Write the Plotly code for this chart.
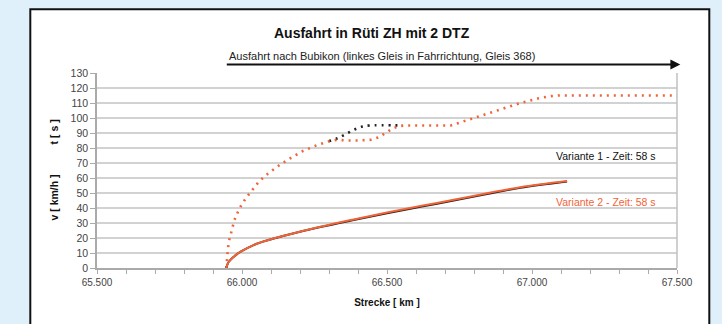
import plotly.graph_objects as go

# ---- data ----
# Variante 2 speed (dotted orange), km / km/h
v2_km = [65.946, 65.948, 65.951, 65.955, 65.960, 65.966, 65.974, 65.985, 65.998, 66.015,
         66.035, 66.060, 66.090, 66.125, 66.165, 66.210, 66.260, 66.300, 66.330, 66.360,
         66.400, 66.445, 66.470, 66.495, 66.520, 66.540, 66.560, 66.720, 66.760, 66.800,
         66.880, 66.960, 67.020, 67.060, 67.090, 67.500]
v2_speed = [0, 6, 12, 18, 22, 27, 32, 37, 42, 47,
            52, 58, 63, 68, 73, 78, 82, 84.5, 85.5, 85,
            85, 85.5, 87, 90, 93, 94.5, 95, 95, 97.5, 100,
            105, 110, 113, 114.5, 115, 115]
# Variante 1 speed, where it differs from Variante 2
v1_km = [66.300, 66.330, 66.360, 66.390, 66.415, 66.440, 66.555]
v1_speed = [84.5, 86.5, 89.5, 92.5, 94.3, 95, 95]
# running time (solid), km / s
t_km = [65.946, 65.950, 65.956, 65.964, 65.975, 65.994, 66.040, 66.098, 66.155, 66.270,
        66.385, 66.500, 66.615, 66.730, 66.845, 66.960, 67.121]
t2_s = [0, 2.5, 4.5, 6.2, 8.0, 10.7, 15.3, 19.0, 22.0, 27.5,
        32.4, 37.0, 41.3, 45.5, 49.8, 53.9, 58.0]
t1_s = [0, 2.5, 4.5, 6.2, 8.0, 10.7, 15.3, 19.0, 22.0, 27.3,
        32.0, 36.5, 40.8, 45.0, 49.3, 53.5, 57.7]

x_ticks = [round(65.5 + 0.1 * i, 1) for i in range(21)]
x_ticktext = ["65.500", "", "", "", "", "66.000", "", "", "", "", "66.500",
              "", "", "", "", "67.000", "", "", "", "", "67.500"]
y_ticks = list(range(0, 131, 10))

title = "Ausfahrt in Rüti ZH mit 2 DTZ"
subtitle = "Ausfahrt nach Bubikon (linkes Gleis in Fahrrichtung, Gleis 368)"
label1 = "Variante 1 - Zeit: 58 s"
label2 = "Variante 2 - Zeit: 58 s"

ORANGE = "#f0643a"
FONT = "Arial, Liberation Sans, sans-serif"
DOTS = "2px,5px"

fig = go.Figure()
fig.add_trace(go.Scatter(x=v1_km, y=v1_speed, mode="lines", line_shape="spline",
                         line=dict(color="#222222", width=2.6, dash=DOTS), showlegend=False))
fig.add_trace(go.Scatter(x=v2_km, y=v2_speed, mode="lines",
                         line=dict(color=ORANGE, width=2.6, dash=DOTS), showlegend=False))
fig.add_trace(go.Scatter(x=t_km, y=t1_s, mode="lines", line_shape="spline",
                         line=dict(color="#2a1a14", width=2.0), showlegend=False))
fig.add_trace(go.Scatter(x=t_km, y=t2_s, mode="lines", line_shape="spline",
                         line=dict(color=ORANGE, width=2.0), showlegend=False))

L, R, T, B = 96.7, 676.7, 73.0, 267.7
W, H = 722, 324
pw, ph = R - L, B - T

def px(xp):
    return (xp - L) / pw

def py(yp):
    return (B - yp) / ph

shapes = [
    # white panel with black border
    dict(type="rect", xref="paper", yref="paper", x0=px(30), x1=px(709), y0=py(340), y1=py(9.3),
         fillcolor="white", line=dict(color="#111111", width=2), layer="below"),
    # white boxes behind the labels
    dict(type="rect", xref="paper", yref="paper", x0=px(538), x1=px(674.5), y0=py(170), y1=py(141),
         fillcolor="white", line=dict(width=0), layer="between"),
    dict(type="rect", xref="paper", yref="paper", x0=px(538), x1=px(674.5), y0=py(215), y1=py(186),
         fillcolor="white", line=dict(width=0), layer="between"),
    # right border of plot area
    dict(type="line", xref="paper", yref="paper", x0=1, x1=1, y0=0, y1=1,
         line=dict(color="#c0c0c0", width=1.5), layer="above"),
]

def txt(text, x, y, size, color="#111111", angle=0):
    return dict(text=text, xref="paper", yref="paper", x=px(x), y=py(y),
                xanchor="center", yanchor="middle", showarrow=False, textangle=angle,
                font=dict(family=FONT, size=size, color=color))

annotations = [
    txt("<b>" + title + "</b>", 372, 33, 14),
    txt(subtitle, 382, 56, 11, "#222222"),
    dict(text="", xref="paper", yref="paper", x=px(680), y=py(64.5), axref="pixel", ayref="pixel",
         ax=-(680 - 225), ay=0, showarrow=True, arrowhead=2, arrowsize=1.1, arrowwidth=1.8,
         arrowcolor="#111111"),
    txt("<b>t [ s ]</b>", 54, 132, 10.5, angle=-90),
    txt("<b>v [ km/h ]</b>", 54, 197, 10.5, angle=-90),
    txt(label1, 606, 155.5, 10.5),
    txt(label2, 606, 202, 10.5, ORANGE),
]

fig.update_layout(
    width=W, height=H,
    margin=dict(l=L, r=W - R, t=T, b=H - B, pad=0),
    paper_bgcolor="#dff0fa",
    plot_bgcolor="rgba(0,0,0,0)",
    shapes=shapes,
    annotations=annotations,
    showlegend=False,
    xaxis=dict(range=[65.5, 67.5], tickvals=x_ticks, ticktext=x_ticktext,
               ticks="outside", ticklen=4, tickcolor="#aaaaaa", tickwidth=1,
               showgrid=False, showline=True, linecolor="#aaaaaa", linewidth=1.5,
               zeroline=False, tickfont=dict(family=FONT, size=10, color="#444444"),
               title=dict(text="<b>Strecke [ km ]</b>", font=dict(family=FONT, size=10, color="#111111"),
                          standoff=12)),
    yaxis=dict(range=[0, 130], tickvals=y_ticks, ticks="outside", ticklen=5,
               tickcolor="#aaaaaa", showgrid=True, gridcolor="#d2d2d2", gridwidth=1.8,
               showline=True, linecolor="#aaaaaa", linewidth=1.5, zeroline=False,
               tickfont=dict(family=FONT, size=10.5, color="#444444")),
)

fig.write_html("out.html")
